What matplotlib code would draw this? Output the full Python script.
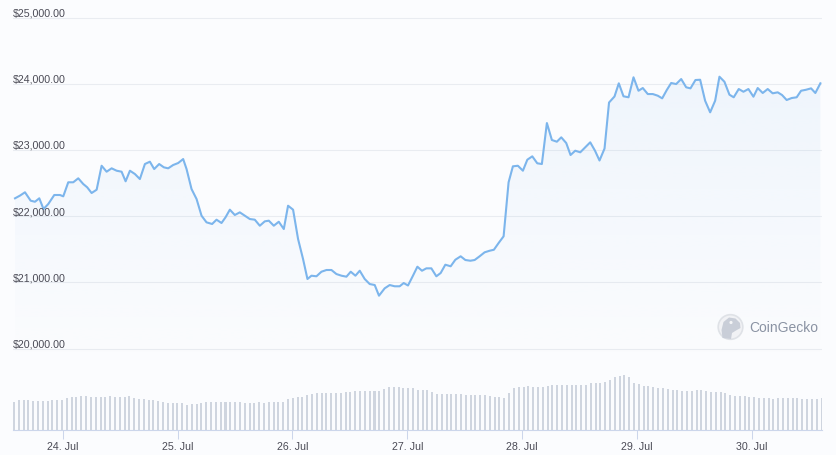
import numpy as np
import matplotlib
matplotlib.use('Agg')
import matplotlib.pyplot as plt
import matplotlib.transforms as mtransforms
from matplotlib.patches import Circle, Polygon
from matplotlib.colors import to_rgb

plt.rcParams['font.family'] = ['Liberation Sans', 'DejaVu Sans']

# ---------------- data ----------------
# hours relative to 24 Jul 00:00
price_hours = [-9.95, -8.91, -7.87, -6.68, -5.78, -4.88, -4.0, -3.0, -1.75, -0.56,
               0.13, 1.17, 2.21, 3.26, 4.30, 5.13, 6.05, 7.10, 8.14, 9.18,
               10.23, 11.27, 12.31, 13.15, 14.05, 15.09, 16.13, 17.18, 18.22, 19.12,
               20.16, 21.14, 22.04, 23.08, 24.13, 25.17, 25.88, 26.92, 27.97, 29.01,
               30.05, 31.22, 32.14, 33.18, 34.02, 34.92, 35.96, 37.00, 38.05, 39.09,
               40.13, 41.18, 42.22, 43.06, 44.10, 45.14, 46.19, 47.08, 48.13, 49.17,
               50.21, 51.13, 51.97, 53.01, 54.05, 55.10, 56.14, 57.18, 58.23, 59.27,
               60.17, 61.15, 62.05, 63.09, 64.13, 65.18, 66.07, 67.26, 68.31, 69.35,
               70.39, 71.23, 72.13, 73.17, 74.09, 75.05, 75.97, 77.01, 78.05, 78.95,
               79.93, 81.04, 82.02, 83.13, 84.11, 85.15, 86.05, 87.09, 88.13, 89.18,
               90.07, 91.06, 92.10, 93.14, 94.04, 95.08, 96.13, 97.05, 98.09, 99.13,
               100.09, 101.14, 102.18, 103.22, 104.14, 105.18, 106.08, 107.06, 108.11, 109.15,
               110.19, 111.19, 112.13, 113.18, 114.12, 115.26, 116.16, 117.14, 118.19, 119.23,
               120.27, 121.17, 122.21, 123.26, 124.30, 125.22, 126.18, 127.10, 128.14, 129.19,
               130.23, 131.13, 132.17, 133.15, 134.19, 135.24, 136.28, 137.18, 138.22, 139.27,
               140.16, 141.21, 142.19, 143.23, 144.28, 145.17, 146.22, 147.26, 148.30, 149.35,
               150.26, 151.22, 152.27, 153.31, 154.23, 155.27, 156.32, 157.21, 158.26]

prices = [22269, 22310, 22360, 22233, 22217, 22269, 22107, 22183, 22319, 22319,
          22299, 22511, 22511, 22571, 22485, 22435, 22349, 22399, 22761, 22671,
          22722, 22686, 22671, 22526, 22686, 22636, 22560, 22787, 22822, 22711,
          22787, 22737, 22722, 22772, 22802, 22862, 22711, 22409, 22258, 22006,
          21906, 21881, 21946, 21896, 21982, 22097, 22017, 22057, 22006, 21956,
          21946, 21855, 21921, 21931, 21855, 21915, 21805, 22157, 22097, 21654,
          21352, 21050, 21100, 21091, 21160, 21186, 21186, 21125, 21100, 21085,
          21160, 21100, 21175, 21050, 20974, 20959, 20798, 20909, 20959, 20940,
          20940, 20989, 20952, 21100, 21236, 21175, 21211, 21211, 21091, 21140,
          21266, 21242, 21341, 21393, 21337, 21326, 21337, 21393, 21453, 21477,
          21492, 21594, 21695, 22511, 22752, 22761, 22686, 22852, 22903, 22798,
          22787, 23406, 23150, 23124, 23190, 23104, 22923, 22988, 22964, 23039,
          23115, 22988, 22840, 23021, 23716, 23807, 24006, 23810, 23795, 24097,
          23894, 23935, 23844, 23844, 23819, 23779, 23905, 24011, 23995, 24071,
          23946, 23930, 24056, 24060, 23743, 23568, 23743, 24106, 24030, 23834,
          23795, 23920, 23879, 23920, 23804, 23935, 23860, 23920, 23855, 23870,
          23829, 23754, 23784, 23795, 23894, 23909, 23930, 23860, 24006]

# hourly total volume (billions USD, approximate)
volume = [28.3, 30.3, 30.3, 30.3, 29.3, 29.3, 29.3, 29.3, 30.3, 30.3,
          30.3, 31.7, 33.3, 33.3, 34.3, 34.3, 33.3, 33.3, 33.3, 33.3,
          34.3, 33.3, 33.3, 33.3, 34.3, 32.0, 31.0, 31.0, 30.3, 30.3,
          29.3, 28.3, 26.7, 26.7, 26.7, 26.7, 25.3, 26.0, 26.0, 27.0,
          27.7, 28.3, 28.3, 28.3, 28.3, 28.3, 28.3, 28.3, 26.7, 26.7,
          26.7, 27.7, 27.0, 27.7, 27.7, 27.7, 27.7, 31.0, 32.0, 33.3,
          33.3, 35.0, 36.0, 37.0, 37.0, 36.7, 36.7, 36.7, 36.7, 37.7,
          37.7, 38.7, 38.7, 38.7, 39.3, 39.3, 39.3, 41.0, 43.3, 43.3,
          43.3, 42.3, 42.3, 42.0,
          40.0, 40.0, 40.0, 37.7, 36.3, 36.3, 36.3, 36.3, 36.3, 36.3,
          35.3, 35.3, 35.3, 35.3, 35.3, 34.3, 33.3, 33.3, 32.0, 37.0,
          42.0, 43.3, 43.3, 44.3, 43.3, 43.3, 43.3, 44.3, 45.3, 45.3,
          45.3, 45.3, 45.3, 45.3, 45.3, 45.3, 46.7, 46.7, 46.7, 48.3,
          50.3, 52.7, 54.3, 55.3, 52.7, 46.7, 46.0, 44.3, 44.3, 43.3,
          42.0, 42.0, 41.0, 40.3, 40.3, 39.3, 39.3, 39.3, 40.3, 40.3,
          39.3, 38.3, 38.3, 37.7, 36.7, 35.3, 34.3, 34.3, 33.7, 33.3,
          32.7, 32.0, 32.0, 32.0, 31.3, 32.3, 32.3, 32.3, 32.3, 32.3,
          31.0, 31.0, 31.0, 31.0, 32.3]
volume_start_hour = -10.16
volume_end_hour = 158.5

price_ticks = [20000, 21000, 22000, 23000, 24000, 25000]
day_hours = [0, 24, 48, 72, 96, 120, 144]
day_labels = ['24. Jul', '25. Jul', '26. Jul', '27. Jul', '28. Jul', '29. Jul', '30. Jul']

# ---------------- style ----------------
W, H = 837, 456
BG = '#fbfcfe'
LINE = '#7cb5ec'
TXT = '#4a4a55'
XLIM = (-10.37, 158.6)
YLIM = (19766, 25159)

fig = plt.figure(figsize=(W / 100, H / 100), dpi=100, facecolor=BG)


def fx(px):
    return px / W


def fy(py):
    return 1 - py / H


L, R = 13, 822
top_px, bot_px = 8, 365
ax = fig.add_axes([fx(L), fy(bot_px), (R - L) / W, (bot_px - top_px) / H])
ax.set_facecolor('none')
for s in ax.spines.values():
    s.set_visible(False)
ax.set_xticks([])
ax.set_yticks([])

# grid + labels
lab_tr = mtransforms.blended_transform_factory(ax.transAxes, ax.transData) + \
    mtransforms.ScaledTranslation(0, 2 / 100, fig.dpi_scale_trans)
for v in price_ticks:
    ax.axhline(v, color='#e9ecf1', lw=0.8, zorder=0)
    ax.text(0, v, f'${v:,.2f}', transform=lab_tr, ha='left', va='baseline',
            fontsize=7.7, color=TXT, zorder=5)

# gradient area fill
poly = ax.fill_between(price_hours, prices, YLIM[0], color='none', lw=0)
rgb = to_rgb(LINE)
grad = np.zeros((256, 1, 4))
grad[..., 0], grad[..., 1], grad[..., 2] = rgb
grad[:, 0, 3] = np.linspace(0.12, 0.0, 256)
im = ax.imshow(grad, extent=[XLIM[0], XLIM[1], YLIM[0], YLIM[1]], origin='upper',
               aspect='auto', zorder=1, interpolation='bilinear')
im.set_clip_path(poly.get_paths()[0], transform=ax.transData)

ax.plot(price_hours, prices, color=LINE, lw=1.5, zorder=3, solid_joinstyle='round')
ax.set_xlim(*XLIM)
ax.set_ylim(*YLIM)

# volume axes
vb = 431
ax2 = fig.add_axes([fx(L), fy(vb), (R - L) / W, 60 / H])
ax2.set_facecolor('none')
vol_hours = np.linspace(volume_start_hour, volume_end_hour, len(volume))
ax2.bar(vol_hours, volume, width=0.42, color='#cfd5df', lw=0)
ax2.set_xlim(*XLIM)
ax2.set_ylim(0, 60)
for k in ['top', 'left', 'right']:
    ax2.spines[k].set_visible(False)
ax2.spines['bottom'].set_color('#ccd6eb')
ax2.spines['bottom'].set_linewidth(0.8)
ax2.set_yticks([])
ax2.set_xticks(day_hours)
ax2.set_xticklabels(day_labels)
ax2.tick_params(axis='x', length=6.5, width=0.75, color='#ccd6eb', labelcolor=TXT,
                labelsize=7.7, pad=1.5)

# watermark
ov = fig.add_axes([0, 0, 1, 1])
ov.set_xlim(0, W)
ov.set_ylim(H, 0)
ov.axis('off')
ov.set_facecolor('none')
ov.add_patch(Circle((730.5, 328), 12.3, fc='#f1f2f5', ec='#dfe2e7', lw=1.2))
ov.add_patch(Polygon([(722.5, 339), (721.5, 331), (723.5, 323), (729, 318.5), (735.5, 319.5),
                      (740, 324), (740.5, 329), (736, 331.5), (732, 334), (731, 340)],
                     closed=True, fc='#c9ced8', ec='none'))
ov.add_patch(Circle((731, 323.5), 1.6, fc='#f4f5f7', ec='none'))
ov.text(749, 328, 'CoinGecko', fontsize=10, color='#8a93a3', va='center', ha='left')

fig.savefig('out.png', dpi=100, facecolor=BG)
